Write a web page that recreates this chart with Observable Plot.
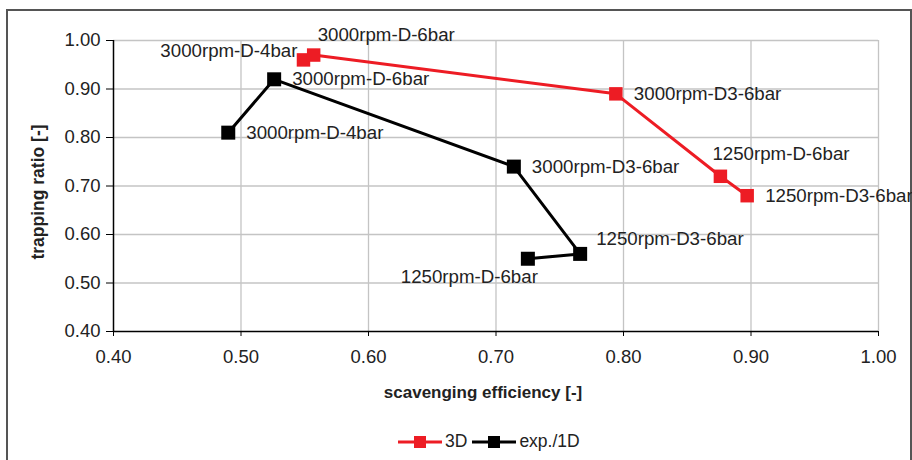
<!DOCTYPE html>
<html>
<head>
<meta charset="utf-8">
<script src="https://cdn.jsdelivr.net/npm/d3@7"></script>
<script src="https://cdn.jsdelivr.net/npm/@observablehq/plot@0.6"></script>
<style>
  html, body { margin: 0; padding: 0; background: #fff; }
  body { width: 912px; height: 460px; position: relative; overflow: hidden; font-family: "Liberation Sans", Arial, sans-serif; }
  #frame { position: absolute; left: 6px; top: 9px; width: 906px; height: 470px; border: 2px solid #555; box-sizing: border-box; }
  #chart { position: absolute; left: 0; top: 0; }
  #legend { position: absolute; left: 398px; top: 431px; display: flex; align-items: center; font-size: 17.5px; color: #222; }
  #legend .item { display: flex; align-items: center; }
  #legend svg { display: block; }
</style>
</head>
<body>
<div id="frame"></div>
<div id="chart"></div>
<div id="legend"></div>
<script>
// ---- data ----
const seriesNames = ["3D", "exp./1D"];
const seriesColors = ["#ed1c24", "#000000"];

const x3D = [0.549, 0.557, 0.794, 0.876, 0.897];
const y3D = [0.96, 0.97, 0.89, 0.72, 0.68];
const labels3D = ["3000rpm-D-4bar", "3000rpm-D-6bar", "3000rpm-D3-6bar", "1250rpm-D-6bar", "1250rpm-D3-6bar"];

const xExp = [0.490, 0.526, 0.714, 0.766, 0.725];
const yExp = [0.81, 0.92, 0.74, 0.56, 0.55];
const labelsExp = ["3000rpm-D-4bar", "3000rpm-D-6bar", "3000rpm-D3-6bar", "1250rpm-D3-6bar", "1250rpm-D-6bar"];

const xTicks = [0.40, 0.50, 0.60, 0.70, 0.80, 0.90, 1.00];
const yTicks = [0.40, 0.50, 0.60, 0.70, 0.80, 0.90, 1.00];

const xTitle = "scavenging efficiency [-]";
const yTitle = "trapping ratio [-]";

// label placement (style, kept separate from values)
const place3D = ["upleft", "aboveright", "right", "above", "right"];
const placeExp = ["right", "right", "right", "upright", "belowleft"];
const placements = {
  right:      {textAnchor: "start", dx: 18, dy: 0},
  upleft:     {textAnchor: "end",   dx: -6, dy: -9},
  aboveright: {textAnchor: "start", dx: 4,  dy: -20},
  above:      {textAnchor: "start", dx: -8, dy: -22},
  upright:    {textAnchor: "start", dx: 16, dy: -15},
  belowleft:  {textAnchor: "end",   dx: 10, dy: 18}
};

// ---- build tables ----
const d3D = x3D.map((x, i) => ({x, y: y3D[i], label: labels3D[i], place: place3D[i]}));
const dExp = xExp.map((x, i) => ({x, y: yExp[i], label: labelsExp[i], place: placeExp[i]}));
const allPts = [...d3D, ...dExp];

const fmt = d3.format(".2f");
const font = "'Liberation Sans', Arial, sans-serif";

const labelMarks = Object.entries(placements).map(([key, p]) =>
  Plot.text(allPts.filter(d => d.place === key), {
    x: "x", y: "y", text: "label",
    textAnchor: p.textAnchor, dx: p.dx, dy: p.dy,
    fill: "#222", fontSize: 18.7
  })
);

const chart = Plot.plot({
  width: 912,
  height: 420,
  marginLeft: 113,
  marginRight: 34,
  marginTop: 40,
  marginBottom: 89,
  style: {fontFamily: font, fontSize: "18.5px", color: "#222", background: "transparent", overflow: "visible"},
  x: {domain: [0.4, 1.0], label: null},
  y: {domain: [0.4, 1.0], label: null},
  marks: [
    Plot.gridX(xTicks.slice(1), {stroke: "#c4c4c4", strokeOpacity: 1, strokeWidth: 1.3}),
    Plot.gridY(yTicks.slice(1), {stroke: "#c4c4c4", strokeOpacity: 1, strokeWidth: 1.3}),
    Plot.axisX(xTicks, {tickSize: 5, tickPadding: 13, tickFormat: fmt, stroke: "#000", label: null, fontSize: 18.5}),
    Plot.axisY(yTicks, {tickSize: 7, tickPadding: 6, tickFormat: fmt, stroke: "#000", label: null, fontSize: 18.5}),
    Plot.ruleX([0.4], {stroke: "#000", strokeWidth: 1.5}),
    Plot.ruleY([0.4], {stroke: "#000", strokeWidth: 1.5}),
    Plot.line(d3D, {x: "x", y: "y", stroke: seriesColors[0], strokeWidth: 3}),
    Plot.line(dExp, {x: "x", y: "y", stroke: seriesColors[1], strokeWidth: 3}),
    Plot.dot(d3D, {x: "x", y: "y", symbol: "square", fill: seriesColors[0], r: 7.6}),
    Plot.dot(dExp, {x: "x", y: "y", symbol: "square", fill: seriesColors[1], r: 7.9}),
    ...labelMarks,
    Plot.text([xTitle], {frameAnchor: "bottom", textAnchor: "middle", dx: -13, dy: 66, fontWeight: "bold", fontSize: 17, fill: "#222"}),
    Plot.text([yTitle], {frameAnchor: "left", textAnchor: "middle", dx: -75, dy: 6, rotate: -90, fontWeight: "bold", fontSize: 17.5, fill: "#222"})
  ]
});
document.getElementById("chart").appendChild(chart);

// ---- legend ----
const legend = document.getElementById("legend");
seriesNames.forEach((name, i) => {
  const item = document.createElement("div");
  item.className = "item";
  item.style.marginRight = i === 0 ? "5px" : "0";
  item.innerHTML =
    `<svg width="44" height="16"><line x1="0" y1="8" x2="44" y2="8" stroke="${seriesColors[i]}" stroke-width="3"/>` +
    `<rect x="16" y="2" width="12" height="12" fill="${seriesColors[i]}"/></svg>` +
    `<span style="margin-left:3px">${name}</span>`;
  legend.appendChild(item);
});
</script>
</body>
</html>
